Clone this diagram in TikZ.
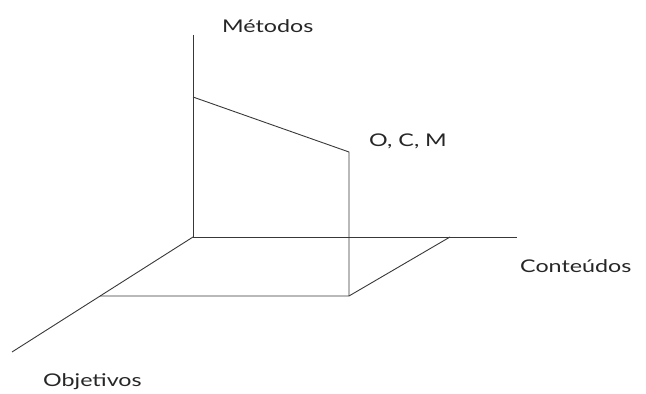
\documentclass[tikz,border=0pt]{standalone}
\usepackage{fontspec}
\newfontfamily\labfont[FakeStretch=1.33]{Lato}
\begin{document}
\begin{tikzpicture}[x=1pt,y=1pt,
  axis/.style={draw=black!78, line width=0.9pt},
  lab/.style={font=\labfont\fontsize{17.5}{20}\selectfont, text=black!85, inner sep=0pt}]
\useasboundingbox (0,0) rectangle (646,394);
\coordinate (O) at (193,157);
\coordinate (Vtop) at (193,359);
\coordinate (Hend) at (517,157);
\coordinate (Dend) at (12,42);
\coordinate (M1) at (193,297);
\coordinate (P) at (349,242);
\coordinate (Q) at (349,98);
\coordinate (R) at (450,157);
\coordinate (S) at (100,98);
\draw[axis] (Vtop) -- (O) -- (Hend);
\draw[axis] (O) -- (Dend);
\draw[axis] (M1) -- (P) -- (Q);
\draw[axis] (S) -- (Q) -- (R);
\node[lab, anchor=base west] (met) at (222,361) {Métodos};
\node[lab, anchor=base west] (ocm) at (369,247) {O, C, M};
\node[lab, anchor=base west] (con) at (520,121) {Conteúdos};
\node[lab, anchor=base west] (obj) at (43,7) {Objetivos};
\end{tikzpicture}
\end{document}
